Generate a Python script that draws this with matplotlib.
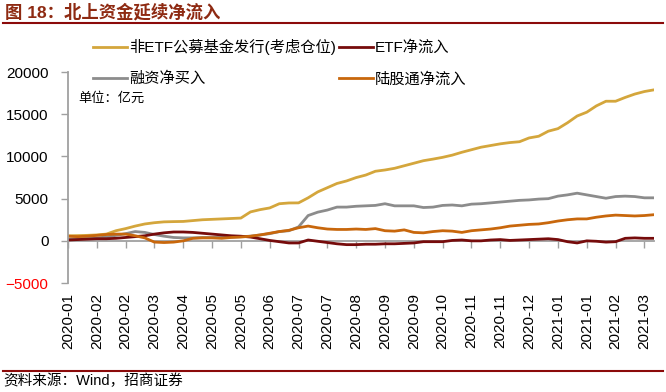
import matplotlib
matplotlib.use('Agg')
import matplotlib.pyplot as plt

plt.rcParams['font.family'] = ['Liberation Sans', 'Noto Sans CJK SC']

# weekly cumulative flows, 2020-01-17 .. 2021-03-19 (亿元)
fund_issue = [600, 620, 650, 700, 800, 1200, 1450, 1750, 2000, 2150,
              2250, 2280, 2300, 2400, 2500, 2550, 2600, 2650, 2700, 3430,
              3700, 3900, 4400, 4490, 4500, 5100, 5800, 6300, 6800, 7100,
              7500, 7800, 8250, 8400, 8600, 8900, 9200, 9500, 9690, 9900,
              10160, 10500, 10800, 11100, 11300, 11500, 11650, 11750, 12200, 12400,
              13000, 13300, 14000, 14800, 15250, 16000, 16550, 16550, 17000, 17400,
              17700, 17900]
etf_flow = [100, 150, 200, 250, 250, 300, 400, 500, 600, 800,
            950, 1050, 1050, 1000, 900, 800, 700, 600, 550, 450,
            250, 50, -100, -250, -250, 100, -50, -200, -350, -450,
            -450, -400, -400, -350, -350, -300, -250, -100, -100, -100,
            50, 100, 0, 0, 100, 150, 50, 100, 150, 200,
            250, 150, -100, -250, 0, -50, -150, -100, 300, 350,
            300, 300]
margin_buy = [200, 250, 300, 350, 450, 650, 850, 1100, 1000, 750,
              550, 400, 350, 350, 400, 400, 450, 450, 500, 550,
              700, 850, 1100, 1200, 1650, 3000, 3400, 3650, 4000, 4000,
              4100, 4150, 4200, 4400, 4150, 4150, 4150, 3950, 4000, 4200,
              4250, 4150, 4350, 4400, 4500, 4600, 4700, 4800, 4850, 4950,
              5000, 5300, 5450, 5650, 5450, 5250, 5050, 5250, 5300, 5250,
              5100, 5100]
northbound = [550, 500, 550, 650, 750, 800, 800, 600, 350, -150,
              -200, -150, 0, 300, 350, 350, 300, 400, 450, 550,
              700, 900, 1100, 1250, 1550, 1750, 1550, 1400, 1350, 1350,
              1400, 1350, 1450, 1200, 1150, 1300, 1000, 950, 1100, 1200,
              1150, 1000, 1200, 1300, 1400, 1550, 1750, 1850, 1950, 2000,
              2150, 2350, 2500, 2600, 2600, 2800, 2950, 3050, 3000, 2950,
              3000, 3100]
tick_labels = ['2020-01', '2020-02', '2020-02', '2020-03', '2020-04', '2020-05',
               '2020-05', '2020-06', '2020-07', '2020-07', '2020-08', '2020-09',
               '2020-09', '2020-10', '2020-11', '2020-11', '2020-12', '2021-01',
               '2021-01', '2021-02', '2021-03']

x = list(range(len(fund_issue)))

fig = plt.figure(figsize=(6.66, 3.92), dpi=100)
ax = fig.add_axes([0.102, 0.278, 0.880, 0.538])

lw = 2.0
l1, = ax.plot(x, fund_issue, color='#D4A63C', lw=lw, label='非ETF公募基金发行(考虑仓位)')
l3, = ax.plot(x, margin_buy, color='#8C8C8C', lw=lw, label='融资净买入')
l2, = ax.plot(x, etf_flow, color='#760B0B', lw=lw, label='ETF净流入')
l4, = ax.plot(x, northbound, color='#C8670C', lw=lw, label='陆股通净流入')

ax.set_xlim(0, len(x) - 1)
ax.set_ylim(-5000, 20000)
ax.set_yticks([-5000, 0, 5000, 10000, 15000, 20000])
ax.tick_params(axis='y', length=5, width=1, color='#A0A0A0', pad=9, labelsize=11)
ax.get_yticklabels()[0].set_color('red')

ticks = list(range(0, len(x), 3))
ax.set_xticks(ticks)
ax.set_xticklabels(tick_labels, rotation=90, fontsize=11)
ax.tick_params(axis='x', length=0, pad=7)

for s in ['top', 'right', 'bottom']:
    ax.spines[s].set_visible(False)
ax.spines['left'].set_color('#A0A0A0')
ax.spines['left'].set_linewidth(1.3)

# zero line with tick marks
sec = ax.secondary_xaxis(0, transform=ax.transData)
sec.set_xticks(ticks)
sec.set_xticklabels([])
sec.tick_params(axis='x', length=5, width=1, color='#A0A0A0', direction='out')
sec.spines['bottom'].set_color('#A0A0A0')
sec.spines['bottom'].set_linewidth(1.3)

fig.legend(handles=[l1, l3, l2, l4], ncol=2, loc='upper left',
           bbox_to_anchor=(0.140, 1 - 39 / 392), frameon=False, fontsize=11,
           handlelength=2.2, handletextpad=0.15, columnspacing=0.2,
           labelspacing=1.1, borderpad=0, borderaxespad=0)

fig.text(78 / 666, 1 - 98 / 392, '单位：亿元', fontsize=9.5, va='center', ha='left')

fig.text(5 / 666, 1 - 12 / 392, '图 18：北上资金延续净流入', fontsize=12.5,
         fontweight='bold', color='#8E2A12', va='center', ha='left')
fig.add_artist(plt.Line2D([0.005, 0.995], [1 - 23 / 392, 1 - 23 / 392],
                          color='#8B0A0A', lw=1.5))
fig.add_artist(plt.Line2D([0.005, 0.995], [1 - 371 / 392, 1 - 371 / 392],
                          color='#8B0A0A', lw=1.5))
fig.text(3 / 666, 1 - 381 / 392, '资料来源：Wind，招商证券', fontsize=10.5,
         va='center', ha='left')

fig.savefig('out.png', dpi=100)
